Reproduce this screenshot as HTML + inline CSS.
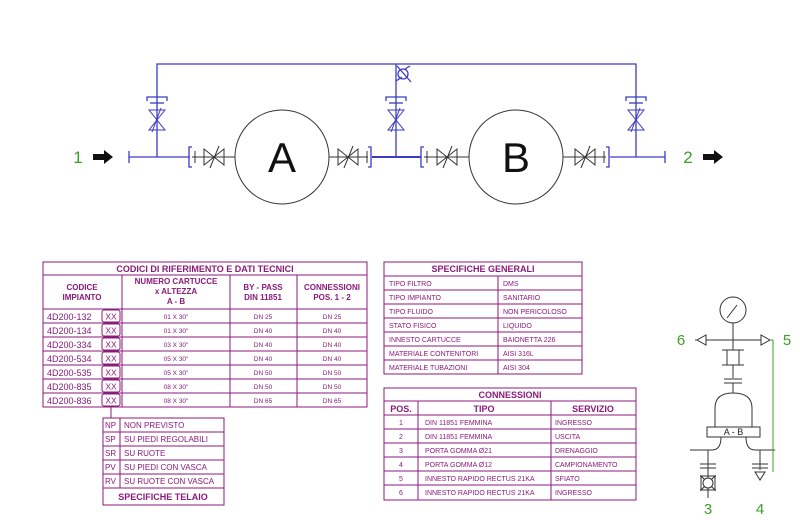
<!DOCTYPE html>
<html><head><meta charset="utf-8"><style>
html,body{margin:0;padding:0;background:#fff;}
svg{display:block;}
text{font-family:"Liberation Sans",sans-serif;}
.t{fill:#8b1a7a;font-size:8px;}
.tb{fill:#8b1a7a;font-size:9px;font-weight:bold;}
.c{fill:#8b1a7a;font-size:6.5px;}
</style></head><body>
<svg width="800" height="520" viewBox="0 0 800 520" xmlns="http://www.w3.org/2000/svg">
<defs>
<g id="vb"><path d="M-10,-8 L10,8 L10,-8 L-10,8 Z" fill="none" stroke="#3b3bc4" stroke-width="1"/><line x1="-12" y1="-4" x2="12" y2="5" stroke="#3b3bc4"/></g>
<g id="vk"><path d="M-10,-8 L10,8 L10,-8 L-10,8 Z" fill="none" stroke="#333" stroke-width="1"/><line x1="-4" y1="11" x2="5" y2="-11" stroke="#333"/></g>
</defs>
<!-- piping -->
<g stroke="#3b3bc4" stroke-width="1.3" fill="none">
<polyline points="157,157 157,64 636,64 636,157"/>
<line x1="396" y1="64" x2="396" y2="157"/>
<line x1="129" y1="157" x2="190" y2="157"/>
<line x1="129" y1="151" x2="129" y2="163"/>
<line x1="372" y1="157" x2="421" y2="157" stroke-width="2"/>
<line x1="610" y1="157" x2="665" y2="157"/>
<line x1="665" y1="151" x2="665" y2="163"/>
<path d="M192,147 H189 V167 H192"/><path d="M368,147 H371 V167 H368"/>
<path d="M424,147 H421 V167 H424"/><path d="M606,147 H609 V167 H606"/>
<!-- vertical brackets -->
<path d="M147,101 V97 H167 V101"/><line x1="150" y1="103" x2="164" y2="103"/>
<path d="M386,101 V97 H406 V101"/><line x1="389" y1="103" x2="403" y2="103"/>
<path d="M626,101 V97 H646 V101"/><line x1="629" y1="103" x2="643" y2="103"/>
<!-- check valve -->
<circle cx="403" cy="74" r="5"/>
<line x1="397" y1="66" x2="411" y2="82"/>
<line x1="396" y1="81" x2="402" y2="77"/><line x1="405" y1="69" x2="410" y2="66"/>
</g>
<g fill="#fff">
<use href="#vb" transform="translate(157,120) rotate(90)"/>
<use href="#vb" transform="translate(396,120) rotate(90)"/>
<use href="#vb" transform="translate(636,120) rotate(90)"/>
</g>
<!-- black components -->
<g stroke="#333" stroke-width="1" fill="none">
<line x1="192" y1="157" x2="235" y2="157"/><line x1="195" y1="151" x2="195" y2="163"/>
<line x1="329" y1="157" x2="368" y2="157"/><line x1="367" y1="151" x2="367" y2="163"/>
<line x1="424" y1="157" x2="469" y2="157"/><line x1="427" y1="151" x2="427" y2="163"/>
<line x1="563" y1="157" x2="606" y2="157"/><line x1="604" y1="151" x2="604" y2="163"/>
<circle cx="282" cy="157" r="47" fill="#fff"/>
<circle cx="516" cy="157" r="47" fill="#fff"/>
</g>
<g fill="#fff">
<use href="#vk" transform="translate(214,157)"/>
<use href="#vk" transform="translate(348,157)"/>
<use href="#vk" transform="translate(447,157)"/>
<use href="#vk" transform="translate(585,157)"/>
</g>
<text x="282" y="172" font-size="42" text-anchor="middle" fill="#111">A</text>
<text x="516" y="172" font-size="42" text-anchor="middle" fill="#111">B</text>
<text x="78" y="163" font-size="17" text-anchor="middle" fill="#3aa02a">1</text>
<text x="688" y="163" font-size="17" text-anchor="middle" fill="#3aa02a">2</text>
<path d="M93,154 H104 V150 L113,157 L104,164 V160 H93 Z" fill="#111"/>
<path d="M703,154 H714 V150 L723,157 L714,164 V160 H703 Z" fill="#111"/>

<!-- Table 1 -->
<g stroke="#8b1a7a" stroke-width="1" fill="none">
<rect x="43" y="262" width="324" height="145"/>
<line x1="43" y1="275" x2="367" y2="275"/>
<line x1="43" y1="309" x2="367" y2="309"/>
<line x1="122" y1="275" x2="122" y2="407"/><line x1="230" y1="275" x2="230" y2="407"/><line x1="297" y1="275" x2="297" y2="407"/>
<line x1="43" y1="323" x2="367" y2="323"/><line x1="43" y1="337" x2="367" y2="337"/><line x1="43" y1="351" x2="367" y2="351"/>
<line x1="43" y1="365" x2="367" y2="365"/><line x1="43" y1="379" x2="367" y2="379"/><line x1="43" y1="393" x2="367" y2="393"/>
<rect x="102" y="310" width="18" height="12" rx="2"/><rect x="102" y="324" width="18" height="12" rx="2"/>
<rect x="102" y="338" width="18" height="12" rx="2"/><rect x="102" y="352" width="18" height="12" rx="2"/>
<rect x="102" y="366" width="18" height="12" rx="2"/><rect x="102" y="380" width="18" height="12" rx="2"/>
<rect x="102" y="394" width="18" height="12" rx="2"/>
<line x1="111" y1="407" x2="111" y2="418"/>
</g>
<text x="205" y="272" class="tb" text-anchor="middle">CODICI DI RIFERIMENTO E DATI TECNICI</text>
<g class="tb" text-anchor="middle" style="font-size:8px">
<text x="82" y="290">CODICE</text><text x="82" y="300">IMPIANTO</text>
<text x="176" y="284">NUMERO CARTUCCE</text><text x="176" y="294">x ALTEZZA</text><text x="176" y="304">A  -  B</text>
<text x="263" y="290">BY - PASS</text><text x="263" y="300">DIN 11851</text>
<text x="332" y="290">CONNESSIONI</text><text x="332" y="300">POS. 1 - 2</text>
</g>
<g class="t" font-size="9" style="font-size:9px">
<text x="47" y="320">4D200-132</text><text x="47" y="334">4D200-134</text><text x="47" y="348">4D200-334</text>
<text x="47" y="362">4D200-534</text><text x="47" y="376">4D200-535</text><text x="47" y="390">4D200-835</text><text x="47" y="404">4D200-836</text>
</g>
<g class="t" text-anchor="middle" style="font-size:8.5px">
<text x="111" y="319.5">XX</text><text x="111" y="333.5">XX</text><text x="111" y="347.5">XX</text><text x="111" y="361.5">XX</text>
<text x="111" y="375.5">XX</text><text x="111" y="389.5">XX</text><text x="111" y="403.5">XX</text>
</g>
<g class="c" text-anchor="middle">
<text x="176" y="319">01 X 30"</text><text x="176" y="333">01 X 30"</text><text x="176" y="347">03 X 30"</text><text x="176" y="361">05 X 30"</text><text x="176" y="375">05 X 30"</text><text x="176" y="389">08 X 30"</text><text x="176" y="403">08 X 30"</text>
<text x="263" y="319">DN 25</text><text x="263" y="333">DN 40</text><text x="263" y="347">DN 40</text><text x="263" y="361">DN 40</text><text x="263" y="375">DN 50</text><text x="263" y="389">DN 50</text><text x="263" y="403">DN 65</text>
<text x="332" y="319">DN 25</text><text x="332" y="333">DN 40</text><text x="332" y="347">DN 40</text><text x="332" y="361">DN 40</text><text x="332" y="375">DN 50</text><text x="332" y="389">DN 50</text><text x="332" y="403">DN 65</text>
</g>

<!-- Telaio -->
<g stroke="#8b1a7a" stroke-width="1" fill="none">
<rect x="103" y="418" width="121" height="87"/>
<line x1="120" y1="418" x2="120" y2="488"/>
<line x1="103" y1="432" x2="224" y2="432"/><line x1="103" y1="446" x2="224" y2="446"/><line x1="103" y1="460" x2="224" y2="460"/>
<line x1="103" y1="474" x2="224" y2="474"/><line x1="103" y1="488" x2="224" y2="488"/>
</g>
<g class="t">
<text x="105" y="428">NP</text><text x="105" y="442">SP</text><text x="105" y="456">SR</text><text x="105" y="470">PV</text><text x="105" y="484">RV</text>
<text x="124" y="428">NON PREVISTO</text><text x="124" y="442">SU PIEDI REGOLABILI</text><text x="124" y="456">SU RUOTE</text>
<text x="124" y="470">SU PIEDI CON VASCA</text><text x="124" y="484">SU RUOTE CON VASCA</text>
</g>
<text x="163" y="500" class="tb" text-anchor="middle">SPECIFICHE TELAIO</text>

<!-- Specifiche generali -->
<g stroke="#8b1a7a" stroke-width="1" fill="none">
<rect x="384" y="262" width="198" height="112"/>
<line x1="498" y1="276" x2="498" y2="374"/>
<line x1="384" y1="276" x2="582" y2="276"/><line x1="384" y1="290" x2="582" y2="290"/><line x1="384" y1="304" x2="582" y2="304"/>
<line x1="384" y1="318" x2="582" y2="318"/><line x1="384" y1="332" x2="582" y2="332"/><line x1="384" y1="346" x2="582" y2="346"/><line x1="384" y1="360" x2="582" y2="360"/>
</g>
<text x="483" y="272" class="tb" text-anchor="middle">SPECIFICHE GENERALI</text>
<g class="c" style="font-size:7px">
<text x="389" y="286">TIPO FILTRO</text><text x="389" y="300">TIPO IMPIANTO</text><text x="389" y="314">TIPO FLUIDO</text><text x="389" y="328">STATO FISICO</text>
<text x="389" y="342">INNESTO CARTUCCE</text><text x="389" y="356">MATERIALE CONTENITORI</text><text x="389" y="370">MATERIALE TUBAZIONI</text>
<text x="503" y="286">DMS</text><text x="503" y="300">SANITARIO</text><text x="503" y="314">NON PERICOLOSO</text><text x="503" y="328">LIQUIDO</text>
<text x="503" y="342">BAIONETTA 226</text><text x="503" y="356">AISI 316L</text><text x="503" y="370">AISI 304</text>
</g>

<!-- Connessioni -->
<g stroke="#8b1a7a" stroke-width="1" fill="none">
<rect x="384" y="388" width="252" height="112"/>
<line x1="384" y1="401" x2="636" y2="401"/><line x1="384" y1="415" x2="636" y2="415"/>
<line x1="418" y1="401" x2="418" y2="500"/><line x1="551" y1="401" x2="551" y2="500"/>
<line x1="384" y1="429" x2="636" y2="429"/><line x1="384" y1="443" x2="636" y2="443"/><line x1="384" y1="457" x2="636" y2="457"/>
<line x1="384" y1="471" x2="636" y2="471"/><line x1="384" y1="485" x2="636" y2="485"/>
</g>
<text x="510" y="398" class="tb" text-anchor="middle">CONNESSIONI</text>
<g class="tb" text-anchor="middle"><text x="401" y="412">POS.</text><text x="484" y="412">TIPO</text><text x="593" y="412">SERVIZIO</text></g>
<g class="c" style="font-size:7px">
<g text-anchor="middle"><text x="401" y="425">1</text><text x="401" y="439">2</text><text x="401" y="453">3</text><text x="401" y="467">4</text><text x="401" y="481">5</text><text x="401" y="495">6</text></g>
<text x="425" y="425">DIN 11851 FEMMINA</text><text x="425" y="439">DIN 11851 FEMMINA</text><text x="425" y="453">PORTA GOMMA Ø21</text>
<text x="425" y="467">PORTA GOMMA Ø12</text><text x="425" y="481">INNESTO RAPIDO RECTUS 21KA</text><text x="425" y="495">INNESTO RAPIDO RECTUS 21KA</text>
<text x="555" y="425">INGRESSO</text><text x="555" y="439">USCITA</text><text x="555" y="453">DRENAGGIO</text>
<text x="555" y="467">CAMPIONAMENTO</text><text x="555" y="481">SFIATO</text><text x="555" y="495">INGRESSO</text>
</g>

<!-- Right schematic -->
<g stroke="#333" stroke-width="1" fill="none">
<circle cx="733" cy="310" r="13"/><line x1="727" y1="318" x2="737" y2="305"/>
<line x1="733" y1="323" x2="733" y2="378"/>
<line x1="695" y1="340" x2="770" y2="340"/>
<path d="M697,340 L706,335 V345 Z" fill="#fff"/>
<path d="M770,340 L761,335 V345 Z" fill="#fff"/>
<rect x="727" y="350" width="12" height="15" fill="#fff"/><line x1="722" y1="350" x2="744" y2="350"/><line x1="722" y1="365" x2="744" y2="365"/>
<line x1="724" y1="379" x2="742" y2="379"/><line x1="724" y1="383" x2="742" y2="383"/>
<line x1="733" y1="383" x2="733" y2="393"/>
<path d="M715,427 V408 Q715,393 733,393 Q752,393 752,408 V427"/>
<rect x="707" y="427" width="53" height="10" fill="#fff"/>
<path d="M721,437 Q721,450 712,450 H690"/>
<path d="M746,437 Q746,450 755,450 H775"/>
<line x1="708" y1="450" x2="708" y2="498"/>
<line x1="760" y1="450" x2="760" y2="470"/>
<line x1="700" y1="464" x2="716" y2="464"/><line x1="700" y1="468" x2="716" y2="468"/>
<line x1="752" y1="464" x2="768" y2="464"/><line x1="752" y1="468" x2="768" y2="468"/>
<path d="M701,476 L715,490 V476 L701,490 Z" fill="#fff"/><circle cx="708" cy="483" r="5" fill="#fff"/>
<line x1="700" y1="476" x2="716" y2="476"/><line x1="700" y1="490" x2="716" y2="490"/>
<path d="M755,472 H765 L760,480 Z" fill="#fff"/>
</g>
<line x1="773" y1="340" x2="773" y2="472" stroke="#3aa02a" stroke-width="1"/>
<line x1="770" y1="340" x2="773" y2="340" stroke="#3aa02a"/>
<text x="733.5" y="435" font-size="9" text-anchor="middle" fill="#222">A - B</text>
<g fill="#3aa02a" font-size="15" text-anchor="middle">
<text x="681" y="345">6</text><text x="787" y="345">5</text><text x="708" y="514">3</text><text x="760" y="514">4</text>
</g>
</svg>
</body></html>
